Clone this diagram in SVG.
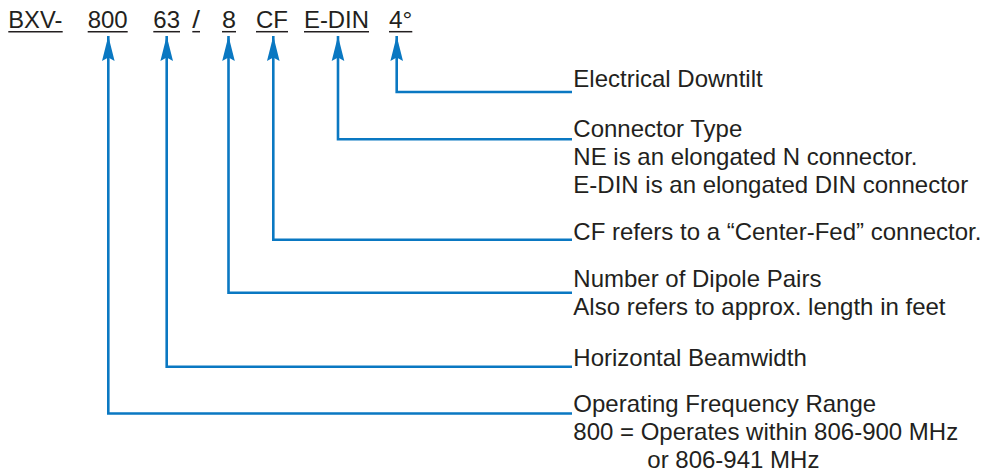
<svg xmlns="http://www.w3.org/2000/svg" width="985" height="474" viewBox="0 0 985 474">
<defs>
<style>
.code{font-family:"Liberation Sans",Arial,sans-serif;font-size:23px;fill:#231f20}
.ul{stroke:#231f20;stroke-width:1.5}
.lbl{font-family:"Liberation Sans",Arial,sans-serif;font-size:24px;fill:#231f20}
.conn{fill:none;stroke:#0a78c2;stroke-width:2.6;marker-end:url(#arrow)}
</style>
<marker id="arrow" markerUnits="userSpaceOnUse" markerWidth="30" markerHeight="16" viewBox="-26 -8 30 16" refX="0" refY="0" orient="auto">
<path d="M0,0 L-25,-6.3 L-21.5,0 L-25,6.3 Z" fill="#0a78c2"/>
</marker>
</defs>
<rect width="985" height="474" fill="#ffffff"/>
<g id="code">
<text class="code" x="8.3" y="27.7" textLength="54" lengthAdjust="spacingAndGlyphs">BXV-</text>
<line class="ul" x1="8.3" y1="31.7" x2="62.7" y2="31.7"/>
<text class="code" x="87.7" y="27.7" textLength="40" lengthAdjust="spacingAndGlyphs">800</text>
<line class="ul" x1="87.7" y1="31.7" x2="127.7" y2="31.7"/>
<text class="code" x="153.3" y="27.7" textLength="26.7" lengthAdjust="spacingAndGlyphs">63</text>
<line class="ul" x1="153.3" y1="31.7" x2="180" y2="31.7"/>
<text class="code" x="192.3" y="27.7" textLength="7.7" lengthAdjust="spacingAndGlyphs">/</text>
<line class="ul" x1="192.3" y1="31.7" x2="200" y2="31.7"/>
<text class="code" x="222" y="27.7" textLength="14" lengthAdjust="spacingAndGlyphs">8</text>
<line class="ul" x1="222" y1="31.7" x2="236" y2="31.7"/>
<text class="code" x="256" y="27.7" textLength="32" lengthAdjust="spacingAndGlyphs">CF</text>
<line class="ul" x1="256" y1="31.7" x2="288" y2="31.7"/>
<text class="code" x="304" y="27.7" textLength="65" lengthAdjust="spacingAndGlyphs">E-DIN</text>
<line class="ul" x1="304" y1="31.7" x2="369" y2="31.7"/>
<text class="code" x="389" y="27.7" textLength="23.3" lengthAdjust="spacingAndGlyphs">4°</text>
<line class="ul" x1="389" y1="31.7" x2="412.3" y2="31.7"/>
</g>
<g id="connectors">
<path class="conn" d="M572,92 H396.7 V36"/>
<path class="conn" d="M572,139.3 H338 V36"/>
<path class="conn" d="M572,239.7 H273.3 V36"/>
<path class="conn" d="M572,292.7 H228.5 V36"/>
<path class="conn" d="M572,366.7 H166.7 V36"/>
<path class="conn" d="M572,413.5 H108.3 V36"/>
</g>
<g id="downtilt">
<text class="lbl" x="573.3" y="86.7">Electrical Downtilt</text>
</g>
<g id="connector-type">
<text class="lbl" x="573.3" y="136.5">Connector Type</text>
<text class="lbl" x="573.3" y="164.5">NE is an elongated N connector.</text>
<text class="lbl" x="573.3" y="192.7">E-DIN is an elongated DIN connector</text>
</g>
<g id="center-fed">
<text class="lbl" x="573.3" y="240">CF refers to a “Center-Fed” connector.</text>
</g>
<g id="dipole-pairs">
<text class="lbl" x="573.3" y="286.7">Number of Dipole Pairs</text>
<text class="lbl" x="573.3" y="315">Also refers to approx. length in feet</text>
</g>
<g id="beamwidth">
<text class="lbl" x="573.3" y="366">Horizontal Beamwidth</text>
</g>
<g id="frequency">
<text class="lbl" x="573.3" y="411.7">Operating Frequency Range</text>
<text class="lbl" x="573.3" y="440">800 = Operates within 806-900 MHz</text>
<text class="lbl" x="647.3" y="467.7">or 806-941 MHz</text>
</g>
</svg>
